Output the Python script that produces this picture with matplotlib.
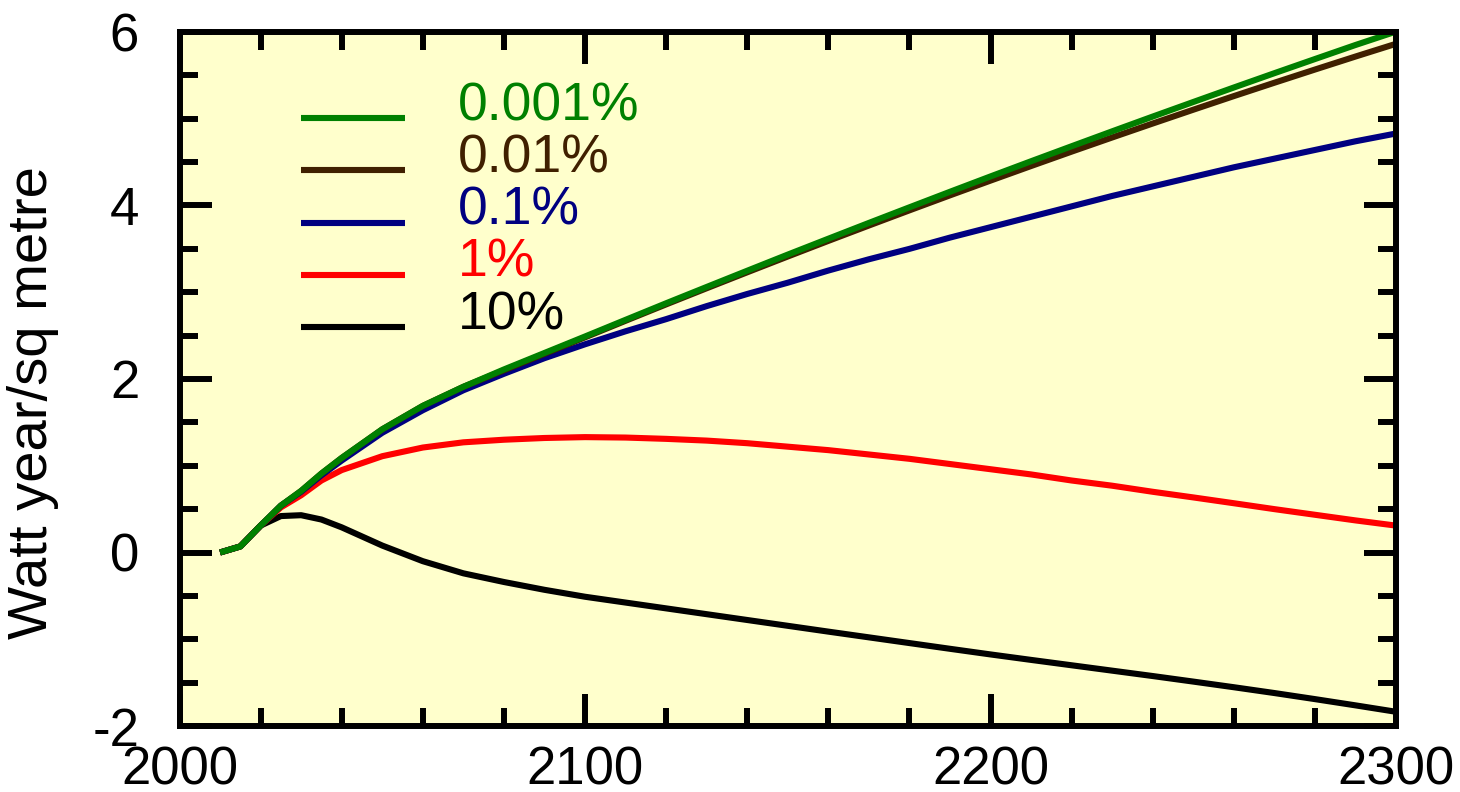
import matplotlib
matplotlib.use("Agg")
import matplotlib.pyplot as plt
from matplotlib.ticker import MultipleLocator

plt.rcParams["font.family"] = ["Liberation Sans", "DejaVu Sans"]
plt.rcParams["axes.unicode_minus"] = False

# Simulation years (5-year steps early, 10-year steps later)
years = [2010, 2015, 2020, 2025, 2030, 2035, 2040, 2050, 2060, 2070, 2080, 2090,
         2100, 2110, 2120, 2130, 2140, 2150, 2160, 2170, 2180, 2190,
         2200, 2210, 2220, 2230, 2240, 2250, 2260, 2270, 2280, 2290, 2300]

# Watt year per square metre for each rate
rate_0001 = [0.00, 0.07, 0.31, 0.54, 0.71, 0.91, 1.09, 1.42, 1.69, 1.91, 2.11, 2.30,
             2.49, 2.682, 2.873, 3.061, 3.248, 3.434, 3.617, 3.799, 3.979, 4.158,
             4.335, 4.510, 4.683, 4.855, 5.025, 5.193, 5.360, 5.525, 5.688, 5.850, 6.005]
rate_001 = [0.00, 0.07, 0.31, 0.54, 0.71, 0.91, 1.09, 1.42, 1.69, 1.91, 2.10, 2.29,
            2.48, 2.671, 2.860, 3.046, 3.230, 3.412, 3.592, 3.769, 3.944, 4.117,
            4.287, 4.455, 4.621, 4.784, 4.945, 5.104, 5.261, 5.415, 5.567, 5.717, 5.864]
rate_01 = [0.00, 0.07, 0.31, 0.54, 0.70, 0.89, 1.06, 1.38, 1.64, 1.87, 2.06, 2.24,
           2.40, 2.55, 2.69, 2.84, 2.98, 3.11, 3.25, 3.38, 3.50, 3.63,
           3.75, 3.87, 3.99, 4.11, 4.22, 4.33, 4.44, 4.54, 4.64, 4.74, 4.83]
rate_1 = [0.00, 0.07, 0.31, 0.52, 0.66, 0.83, 0.95, 1.11, 1.21, 1.27, 1.30, 1.32,
          1.33, 1.325, 1.31, 1.29, 1.26, 1.22, 1.18, 1.13, 1.08, 1.02,
          0.96, 0.90, 0.83, 0.77, 0.70, 0.635, 0.568, 0.50, 0.435, 0.37, 0.31]
rate_10 = [0.00, 0.07, 0.31, 0.42, 0.43, 0.38, 0.29, 0.08, -0.10, -0.24, -0.34, -0.43,
           -0.51, -0.577, -0.644, -0.711, -0.778, -0.845, -0.912, -0.978, -1.044, -1.110,
           -1.175, -1.238, -1.300, -1.362, -1.424, -1.488, -1.553, -1.620, -1.690, -1.762, -1.836]

labels = ["0.001%", "0.01%", "0.1%", "1%", "10%"]
colors = ["#008000", "#402000", "#000080", "#ff0000", "#000000"]
series = [rate_0001, rate_001, rate_01, rate_1, rate_10]

fig = plt.figure(figsize=(14.6, 7.92), dpi=100)
ax = fig.add_axes([179.5 / 1460, 1 - 726 / 792, (1396 - 179.5) / 1460, (726 - 32) / 792])
ax.set_facecolor("#ffffcc")

lw = 4.4
# draw lowest-rate curves last so they sit on top
for vals, col in reversed(list(zip(series, colors))):
    ax.plot(years, vals, color=col, lw=lw, solid_capstyle="butt", solid_joinstyle="round")

ax.set_xlim(2000, 2300)
ax.set_ylim(-2, 6)
ax.xaxis.set_major_locator(MultipleLocator(100))
ax.xaxis.set_minor_locator(MultipleLocator(20))
ax.yaxis.set_major_locator(MultipleLocator(2))
ax.yaxis.set_minor_locator(MultipleLocator(0.5))

for s in ax.spines.values():
    s.set_linewidth(4.3)
ax.tick_params(which="both", direction="in", top=True, right=True, width=4.3, color="black")
ax.tick_params(which="major", length=23)
ax.tick_params(which="minor", length=13)
ax.tick_params(axis="x", which="major", labelsize=38, pad=14)
ax.tick_params(axis="y", which="major", labelsize=38, pad=29)

fig.text(33 / 1460, 1 - 403 / 792, "Watt year/sq metre", rotation=90,
         ha="center", va="center", fontsize=40.5)

# hand-placed key: coloured stroke with matching coloured label
key_y = [0.876, 0.801, 0.725, 0.650, 0.575]
for yk, lab, col in zip(key_y, labels, colors):
    ax.plot([0.0999, 0.1854], [yk, yk], color=col, lw=lw, transform=ax.transAxes,
            solid_capstyle="butt")
    ax.text(0.229, yk - 0.003, lab, color=col, fontsize=38.5, va="baseline", ha="left",
            transform=ax.transAxes)

fig.savefig("out.png", dpi=100)
